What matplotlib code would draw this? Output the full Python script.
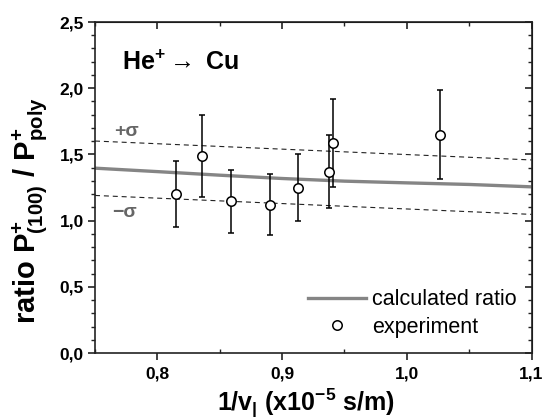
import matplotlib
matplotlib.use("Agg")
import matplotlib.pyplot as plt
from matplotlib.ticker import MultipleLocator, FuncFormatter
from matplotlib.lines import Line2D

plt.rcParams['font.family'] = ['Liberation Sans', 'DejaVu Sans']
plt.rcParams['mathtext.fontset'] = 'custom'
plt.rcParams['mathtext.rm'] = 'Liberation Sans'
plt.rcParams['mathtext.bf'] = 'Liberation Sans:bold'
plt.rcParams['mathtext.it'] = 'Liberation Sans:italic'

# experiment data
exp_x = [0.815, 0.836, 0.859, 0.890, 0.913, 0.938, 0.941, 1.027]
exp_y = [1.20, 1.49, 1.145, 1.12, 1.25, 1.37, 1.585, 1.65]
exp_err = [0.25, 0.31, 0.235, 0.23, 0.256, 0.278, 0.33, 0.337]

# calculated ratio
calc_x = [0.75, 0.80, 0.85, 0.90, 0.95, 1.00, 1.05, 1.10]
calc_y = [1.396, 1.370, 1.343, 1.318, 1.298, 1.285, 1.273, 1.255]

# +/- sigma bounds
sig_x = [0.75, 1.10]
sig_plus = [1.601, 1.458]
sig_minus = [1.190, 1.047]

fig = plt.figure(figsize=(5.42, 4.19), dpi=100)
ax = fig.add_axes([95/542, 1-353/419, (531.5-95)/542, (353-22)/419])

ax.plot(sig_x, sig_plus, color='#222222', lw=0.8, ls=(0, (4.5, 3.5)))
ax.plot(sig_x, sig_minus, color='#222222', lw=0.8, ls=(0, (4.5, 3.5)))
ax.plot(calc_x, calc_y, color='#858585', lw=2.4, solid_capstyle='butt')
ax.errorbar(exp_x, exp_y, yerr=exp_err, fmt='o', mfc='white', mec='black',
            mew=1.1, ms=6.8, ecolor='black', elinewidth=1.1, capsize=2.2,
            capthick=1.1, zorder=5)

ax.set_xlim(0.75, 1.1)
ax.set_ylim(0.0, 2.5)
ax.xaxis.set_major_locator(MultipleLocator(0.1))
ax.xaxis.set_minor_locator(MultipleLocator(0.05))
ax.yaxis.set_major_locator(MultipleLocator(0.5))
ax.yaxis.set_minor_locator(MultipleLocator(0.1))
ax.xaxis.set_major_formatter(FuncFormatter(lambda v, p: f"{v:.1f}".replace('.', ',')))
ax.yaxis.set_major_formatter(FuncFormatter(lambda v, p: f"{v:.1f}".replace('.', ',')))

for sp in ax.spines.values():
    sp.set_linewidth(1.2)
    sp.set_color('#222222')

ax.tick_params(axis='x', which='major', direction='out', length=5, width=1.2,
               labelsize=12.5, pad=5, colors='#222222', labelcolor='black')
ax.tick_params(axis='x', which='minor', direction='in', length=3, width=1.0, colors='#222222')
ax.tick_params(axis='y', which='major', direction='out', length=5, width=1.2,
               labelsize=12.5, pad=3, colors='#222222', labelcolor='black')
ax.tick_params(axis='y', which='minor', direction='out', length=3.2, width=1.0, colors='#222222')
for lab in ax.get_xticklabels() + ax.get_yticklabels():
    lab.set_fontweight('bold')

top = ax.secondary_xaxis('top')
top.xaxis.set_major_locator(MultipleLocator(0.1))
top.xaxis.set_minor_locator(MultipleLocator(0.05))
top.tick_params(which='both', direction='in', labeltop=False, colors='#222222')
top.tick_params(which='major', length=5, width=1.2)
top.tick_params(which='minor', length=3, width=1.0)
right = ax.secondary_yaxis('right')
right.yaxis.set_major_locator(MultipleLocator(0.5))
right.yaxis.set_minor_locator(MultipleLocator(0.1))
right.tick_params(which='both', direction='in', labelright=False, colors='#222222')
right.tick_params(which='major', length=5, width=1.2)
right.tick_params(which='minor', length=3, width=1.0)

ax.set_xlabel(r'$\mathbf{1/v_{|}\ (x10^{-5}\ s/m)}$', fontsize=18)
ax.xaxis.set_label_coords(0.482, -0.103)
ax.set_ylabel(r'$\mathbf{ratio\ P^{+}_{(100)}\ /\ P^{+}_{poly}}$', fontsize=21)
ax.yaxis.set_label_coords(-0.103, 0.43)

ax.text(0.062, 0.876, r'$\mathbf{He^{+}\rightarrow\ Cu}$', transform=ax.transAxes,
        fontsize=18, va='center', ha='left')
ax.text(0.044, 0.668, '+σ', transform=ax.transAxes, fontsize=14, fontweight='bold',
        color='#666666', va='center', ha='left')
ax.text(0.040, 0.423, '−σ', transform=ax.transAxes, fontsize=14, fontweight='bold',
        color='#666666', va='center', ha='left')

h1 = Line2D([], [], color='#858585', lw=2.4)
h2 = Line2D([], [], ls='none', marker='o', mfc='white', mec='black', mew=1.1, ms=6.8)
leg = ax.legend([h1, h2], ['calculated ratio', 'experiment'], loc='lower right',
                frameon=False, fontsize=15.5, handlelength=2.7, handletextpad=0.25,
                labelspacing=0.3, borderaxespad=0.3, bbox_to_anchor=(1.0, 0.0))

fig.savefig('out.png', dpi=100)
